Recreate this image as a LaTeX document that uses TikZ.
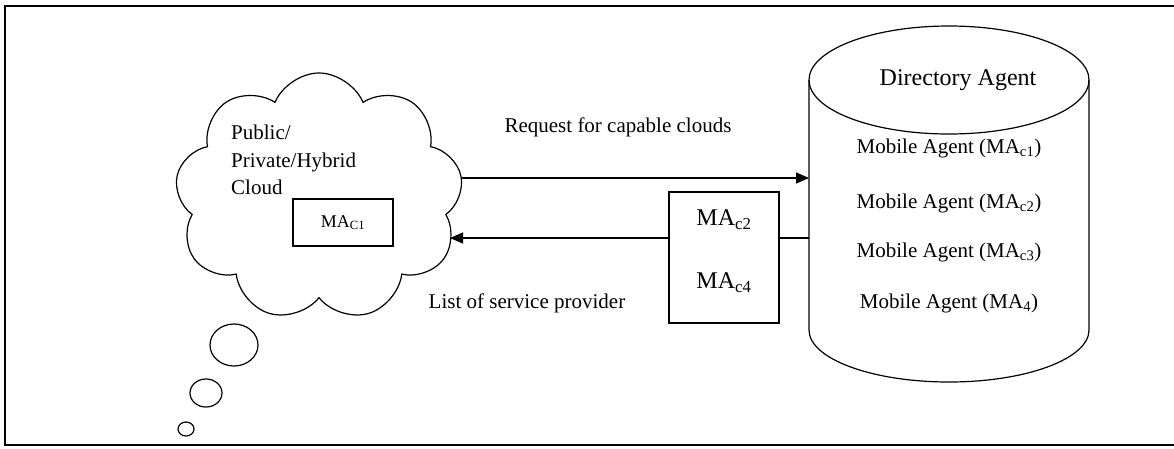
\documentclass[tikz,border=0pt]{standalone}
\usepackage{fontspec}
\setmainfont{Liberation Serif}
\usetikzlibrary{arrows.meta}
\usetikzlibrary{shapes}
\newcommand{\txtsize}{\fontsize{21}{27.5}\selectfont}
\newcommand{\bigsize}{\fontsize{24}{28}\selectfont}
\tikzstyle{CloudNode}=[cloud, draw=black, line width=1.2pt, cloud puffs=9, cloud puff arc=135, minimum width=288pt, minimum height=248pt, inner sep=0pt]
\tikzstyle{AgentBox}=[rectangle, draw=black, line width=1.2pt, inner sep=0pt]
\tikzstyle{TxtNode}=[inner sep=0pt, font=\txtsize]
\tikzstyle{BigTxt}=[inner sep=0pt, font=\bigsize]
\tikzstyle{Bubble}=[line width=1.2pt]
\tikzstyle{FlowEdge}=[-{Triangle[length=13pt,width=11pt]}, line width=1.2pt]

\begin{document}
\begin{tikzpicture}[x=1pt, y=-1pt]
\useasboundingbox (0,0) rectangle (1174,448);
\draw[line width=2pt] (1180,6) -- (5,6) -- (5,445) -- (1180,445);

\node[CloudNode, shape border rotate=10](cloud) at (319,197) {};
\node[TxtNode, align=left, anchor=west](cloudtxt) at (231,160) {Public/\\Private/Hybrid\\Cloud};
\node[AgentBox, minimum width=100pt, minimum height=47pt, font=\fontsize{18}{20}\selectfont](mac1) at (343,222.5) {MA\textsubscript{C1}};

\draw[Bubble] (234,345) ellipse [x radius=24, y radius=21];
\draw[Bubble] (206,393) ellipse [x radius=16, y radius=14];
\draw[Bubble] (186,429) ellipse [x radius=8, y radius=7];

\draw[line width=1.2pt] (809,80) -- (809,330) arc [start angle=180, end angle=0, x radius=140, y radius=52] -- (1089,80);
\draw[line width=1.2pt] (949,80) ellipse [x radius=140, y radius=54];
\node[BigTxt](dirtxt) at (958,80) {Directory Agent};
\node[TxtNode](ma1) at (949,148) {Mobile Agent (MA\textsubscript{c1})};
\node[TxtNode](ma2) at (949,203) {Mobile Agent (MA\textsubscript{c2})};
\node[TxtNode](ma3) at (949,252) {Mobile Agent (MA\textsubscript{c3})};
\node[TxtNode](ma4) at (949,303) {Mobile Agent (MA\textsubscript{4})};

\node[AgentBox, minimum width=110pt, minimum height=131pt](listbox) at (724,257.5) {};
\node[BigTxt](mac2) at (724,220) {MA\textsubscript{c2}};
\node[BigTxt](mac4) at (724,283) {MA\textsubscript{c4}};

\coordinate (cloudout) at (461,178);
\coordinate (dirin) at (809,178);
\coordinate (dirout) at (809,238);
\coordinate (cloudin) at (450,238);
\draw[FlowEdge](cloudout) -- (dirin);
\draw[line width=1.2pt](dirout) -- (listbox.east |- dirout);
\draw[FlowEdge](listbox.west |- cloudin) -- (cloudin);

\node[TxtNode](reqtxt) at (618,127) {Request for capable clouds};
\node[TxtNode](listtxt) at (527,303) {List of service provider};

\end{tikzpicture}
\end{document}
